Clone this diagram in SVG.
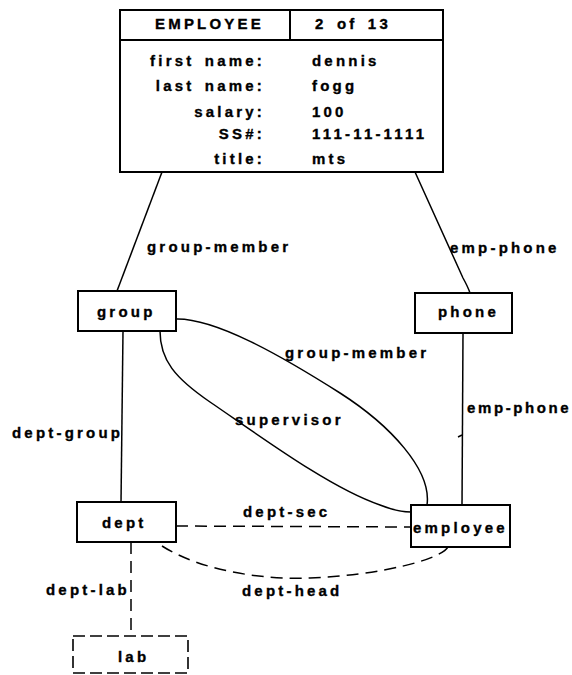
<svg xmlns="http://www.w3.org/2000/svg" width="572" height="675" viewBox="0 0 572 675">
  <style>
    text { font-family: "Liberation Sans", Arial, Helvetica, sans-serif; font-weight: bold; font-size: 15px; letter-spacing: 3.2px; word-spacing: 3px; fill: #000; stroke: #000; stroke-width: 0.35; }
    .box { fill: #fff; stroke: #000; stroke-width: 2; }
    .dbox { fill: #fff; stroke: #000; stroke-width: 1.6; stroke-dasharray: 12 5; }
    .edge { fill: none; stroke: #000; stroke-width: 1.5; }
    .dash { fill: none; stroke: #000; stroke-width: 1.5; stroke-dasharray: 12 7; }
    .r { text-anchor: end; }
  </style>
  <rect width="572" height="675" fill="#fff"/>

  <!-- connectors -->
  <g id="connectors">
    <path class="edge" d="M162,172 L117,291"/>
    <path class="edge" d="M415,172 L463,278 Q468,287 470,293"/>
    <path class="edge" d="M463,333 L462,506"/>
    <path class="edge" d="M458,437 L462,435"/>
    <path class="edge" d="M123,331 L121,503"/>
    <path class="edge" d="M176,319 C215,318 280,355 340,393 C390,425 432,470 427,505"/>
    <path class="edge" d="M160,331 C160,360 175,378 210,402 C260,436 330,488 380,505 C395,511 405,512 411,512"/>
    <path class="dash" d="M176,526 L411,527"/>
    <path class="dash" d="M162,546 C200,570 260,580 310,578 C380,575 440,560 448,547"/>
    <path class="dash" d="M131,542 L131,636"/>
    <text x="147" y="252">group-member</text>
    <text x="450" y="253">emp-phone</text>
    <text x="285" y="358">group-member</text>
    <text x="235" y="425">supervisor</text>
    <text x="467" y="413" style="letter-spacing:2.6px">emp-phone</text>
    <text x="12" y="438">dept-group</text>
    <text x="243" y="517">dept-sec</text>
    <text x="242" y="596">dept-head</text>
    <text x="46" y="595">dept-lab</text>
  </g>

  <!-- employee record card -->
  <g id="employee-record">
    <rect class="box" x="120" y="10" width="323" height="162"/>
    <line x1="120" y1="40" x2="443" y2="40" stroke="#000" stroke-width="2"/>
    <line x1="290" y1="10" x2="290" y2="40" stroke="#000" stroke-width="2"/>
    <text x="155" y="29">EMPLOYEE</text>
    <text x="315" y="29" word-spacing="5">2 of 13</text>
    <text class="r" x="265" y="66">first name:</text>
    <text class="r" x="265" y="91">last name:</text>
    <text class="r" x="265" y="117">salary:</text>
    <text class="r" x="265" y="139">SS#:</text>
    <text class="r" x="265" y="164">title:</text>
    <text x="312" y="66">dennis</text>
    <text x="312" y="91">fogg</text>
    <text x="312" y="117">100</text>
    <text x="312" y="139">111-11-1111</text>
    <text x="312" y="164">mts</text>
  </g>

  <g id="group">
    <rect class="box" x="78" y="291" width="98" height="40"/>
    <text x="97" y="317">group</text>
  </g>

  <g id="phone">
    <rect class="box" x="415" y="293" width="97" height="40"/>
    <text x="438" y="317">phone</text>
  </g>

  <g id="dept">
    <rect class="box" x="77" y="502" width="99" height="40"/>
    <text x="102" y="528">dept</text>
  </g>

  <g id="employee">
    <rect class="box" x="411" y="505" width="99" height="42"/>
    <text x="413" y="533">employee</text>
  </g>

  <g id="lab">
    <rect class="dbox" x="73" y="636" width="115" height="37"/>
    <text x="118" y="662">lab</text>
  </g>
</svg>
